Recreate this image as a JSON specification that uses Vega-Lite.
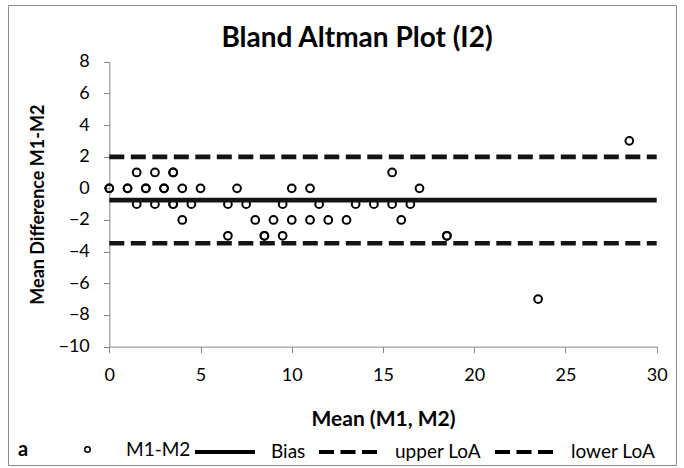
{
  "$schema": "https://vega.github.io/schema/vega-lite/v6.json",
  "width": 668,
  "height": 460,
  "autosize": "none",
  "padding": {"left": 8, "top": 5, "right": 8, "bottom": 3},
  "background": "white",
  "config": {
    "font": "Lato",
    "view": {"stroke": "#8c8c8c", "strokeWidth": 1}
  },
  "title": {
    "text": "Bland Altman Plot (I2)",
    "fontSize": 28,
    "fontWeight": "bold",
    "font": "Lato",
    "color": "black",
    "anchor": "start",
    "align": "center",
    "frame": "group",
    "baseline": "alphabetic",
    "offset": 0,
    "dx": 349,
    "dy": 70
  },
  "datasets": {
    "points": [
      {"mean": 1.5, "diff": 1}, {"mean": 2.5, "diff": 1}, {"mean": 3.5, "diff": 1}, {"mean": 3.5, "diff": 1},
      {"mean": 15.5, "diff": 1}, {"mean": 28.5, "diff": 3},
      {"mean": 0, "diff": 0}, {"mean": 0, "diff": 0}, {"mean": 1, "diff": 0}, {"mean": 1, "diff": 0},
      {"mean": 2, "diff": 0}, {"mean": 2, "diff": 0}, {"mean": 3, "diff": 0}, {"mean": 3, "diff": 0},
      {"mean": 4, "diff": 0}, {"mean": 5, "diff": 0}, {"mean": 7, "diff": 0}, {"mean": 10, "diff": 0},
      {"mean": 11, "diff": 0}, {"mean": 17, "diff": 0},
      {"mean": 1.5, "diff": -1}, {"mean": 2.5, "diff": -1}, {"mean": 3.5, "diff": -1}, {"mean": 3.5, "diff": -1},
      {"mean": 4.5, "diff": -1}, {"mean": 6.5, "diff": -1}, {"mean": 7.5, "diff": -1}, {"mean": 9.5, "diff": -1},
      {"mean": 11.5, "diff": -1}, {"mean": 13.5, "diff": -1}, {"mean": 14.5, "diff": -1}, {"mean": 15.5, "diff": -1},
      {"mean": 16.5, "diff": -1},
      {"mean": 4, "diff": -2}, {"mean": 8, "diff": -2}, {"mean": 9, "diff": -2}, {"mean": 10, "diff": -2},
      {"mean": 11, "diff": -2}, {"mean": 12, "diff": -2}, {"mean": 13, "diff": -2}, {"mean": 16, "diff": -2},
      {"mean": 6.5, "diff": -3}, {"mean": 8.5, "diff": -3}, {"mean": 8.5, "diff": -3}, {"mean": 9.5, "diff": -3},
      {"mean": 18.5, "diff": -3}, {"mean": 18.5, "diff": -3},
      {"mean": 23.5, "diff": -7}
    ],
    "lines": [
      {"series": "Bias", "value": -0.74},
      {"series": "upper LoA", "value": 1.99},
      {"series": "lower LoA", "value": -3.47}
    ]
  },
  "layer": [
    {
      "data": {"name": "points"},
      "mark": {"type": "point", "filled": false, "size": 60, "strokeWidth": 2, "opacity": 1, "color": "black"},
      "encoding": {
        "x": {
          "field": "mean", "type": "quantitative",
          "scale": {"domain": [0, 30], "range": [101.3, 648.7], "nice": false, "zero": false},
          "axis": {
            "values": [0, 5, 10, 15, 20, 25, 30],
            "offset": -118.4,
            "grid": false,
            "domainColor": "#868686",
            "tickColor": "#868686",
            "tickSize": 6,
            "labelFontSize": 18,
            "labelColor": "black",
            "labelPadding": 14,
            "labelFlush": false,
            "labelOverlap": false,
            "title": "Mean (M1, M2)",
            "titleFontSize": 21,
            "titleFontWeight": "bold",
            "titleColor": "black",
            "titlePadding": 24
          }
        },
        "y": {
          "field": "diff", "type": "quantitative",
          "scale": {"domain": [-10, 8], "range": [341.6, 56.7], "nice": false, "zero": false},
          "axis": {
            "values": [-10, -8, -6, -4, -2, 0, 2, 4, 6, 8],
            "offset": -101.3,
            "grid": false,
            "domainColor": "#868686",
            "tickColor": "#868686",
            "tickSize": 6,
            "labelFontSize": 18,
            "labelColor": "black",
            "labelPadding": 14,
            "labelFlush": false,
            "labelOverlap": false,
            "title": "Mean Difference M1-M2",
            "titleFontSize": 18,
            "titleFontWeight": "bold",
            "titleColor": "black",
            "titlePadding": 10
          }
        },
        "shape": {
          "datum": "M1-M2",
          "type": "nominal",
          "scale": {"domain": ["M1-M2"], "range": ["circle"]},
          "legend": {
            "orient": "none",
            "legendX": 10,
            "legendY": 435,
            "direction": "horizontal",
            "title": "a",
            "titleOrient": "left",
            "titleAnchor": "middle",
            "titleBaseline": "middle",
            "titleFontSize": 20,
            "titleFontWeight": "bold",
            "titleColor": "black",
            "titlePadding": 49,
            "labelFontSize": 19,
            "labelColor": "black",
            "labelOffset": 29,
            "symbolSize": 30,
            "symbolStrokeWidth": 1.5,
            "symbolStrokeColor": "black",
            "symbolFillColor": "transparent"
          }
        }
      }
    },
    {
      "data": {"name": "lines"},
      "mark": {"type": "rule", "strokeCap": "butt", "color": "#141414", "strokeWidth": 4.7},
      "encoding": {
        "x": {"datum": 0, "type": "quantitative"},
        "x2": {"datum": 30},
        "y": {"field": "value", "type": "quantitative"},
        "strokeDash": {
          "field": "series", "type": "nominal",
          "scale": {"domain": ["Bias", "upper LoA", "lower LoA"], "range": [[1, 0], [15, 6.5], [15, 6.5]]},
          "legend": {
            "orient": "none",
            "legendX": 185,
            "legendY": 415,
            "direction": "horizontal",
            "columns": 3,
            "title": null,
            "labelFontSize": 19,
            "labelColor": "black",
            "labelOffset": 14,
            "columnPadding": 5,
            "symbolType": "stroke",
            "symbolSize": 3600,
            "symbolStrokeWidth": 4,
            "symbolStrokeColor": "black"
          }
        }
      }
    }
  ]
}
